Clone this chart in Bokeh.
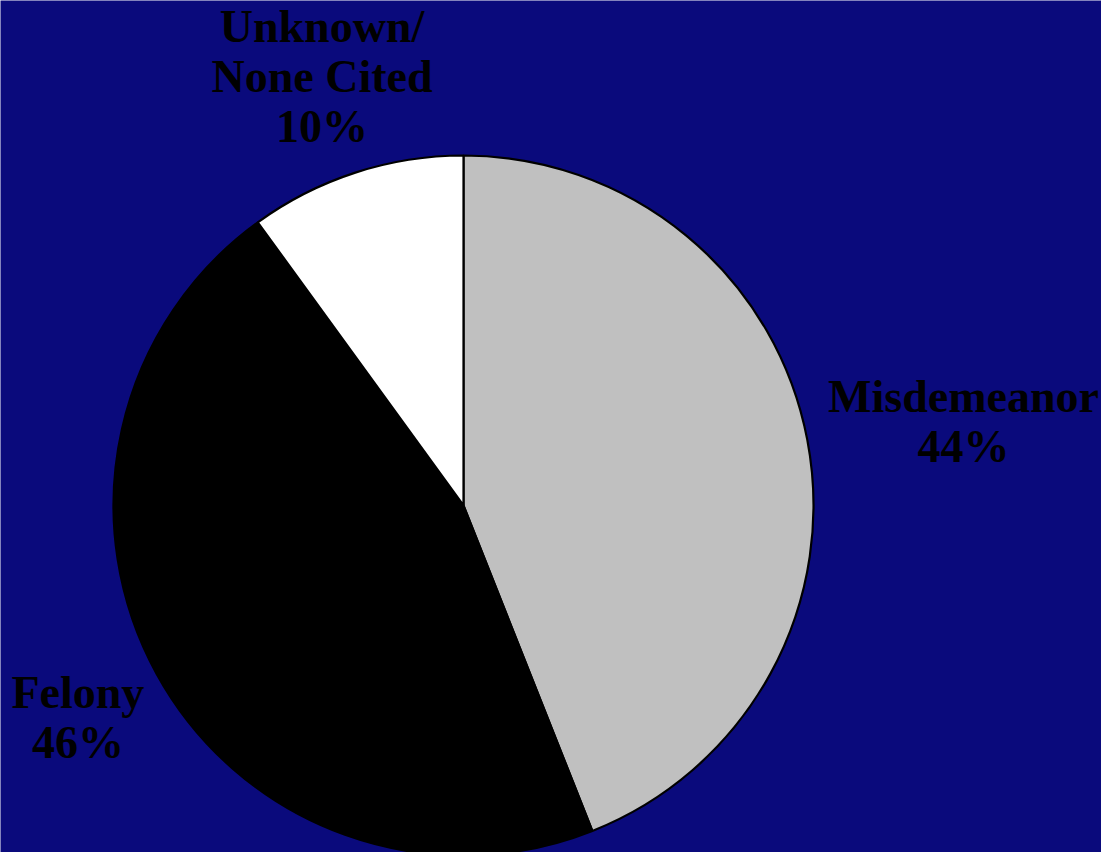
import math
from bokeh.plotting import figure
from bokeh.models import ColumnDataSource, Range1d
from bokeh.core.properties import value
from bokeh.embed import file_html
from bokeh.resources import INLINE

# Data
categories = ["Misdemeanor", "Felony", "Unknown/\nNone Cited"]
shares = [44, 46, 10]
colors = ["#c0c0c0", "#000000", "#ffffff"]

W, H = 1101, 852
R = 350
cx_px, cy_px = 463, 505  # pie centre in figure pixels

p = figure(width=W, height=H, output_backend="svg", toolbar_location=None,
           x_range=Range1d(-cx_px, W - cx_px), y_range=Range1d(-(H - cy_px), cy_px),
           min_border=0, outline_line_color=None,
           background_fill_color="#0a0a7c", border_fill_color="#0a0a7c")
p.axis.visible = False
p.grid.visible = False

total = sum(shares)
starts, ends, mids = [], [], []
cum = 0.0
for s in shares:
    a0 = math.pi / 2 - 2 * math.pi * cum / total
    cum += s
    a1 = math.pi / 2 - 2 * math.pi * cum / total
    starts.append(a0)
    ends.append(a1)
    mids.append((a0 + a1) / 2)

src = ColumnDataSource(dict(start=starts, end=ends, color=colors))
p.wedge(x=0, y=0, radius=R, start_angle="start", end_angle="end", direction="clock",
        fill_color="color", line_color="black", line_width=2.2, source=src)

# label placement (style): distance from centre and small nudge in pixels
label_style = {"Misdemeanor": (509, 0, -11),
               "Felony": (440, 0, 0),
               "Unknown/\nNone Cited": (458, 0, -7)}
lx, ly, lt = [], [], []
for c, s, m in zip(categories, shares, mids):
    r, dx, dy = label_style[c]
    lx.append(r * math.cos(m) + dx)
    ly.append(r * math.sin(m) + dy)
    lt.append(f"{c}\n{s}%")

p.text(x=lx, y=ly, text=lt, text_align="center", text_baseline="middle",
       text_font=value("Liberation Serif"), text_font_style="bold",
       text_font_size="46px", text_color="black", text_line_height=0.98)

open("out.html", "w").write(file_html(p, INLINE))
